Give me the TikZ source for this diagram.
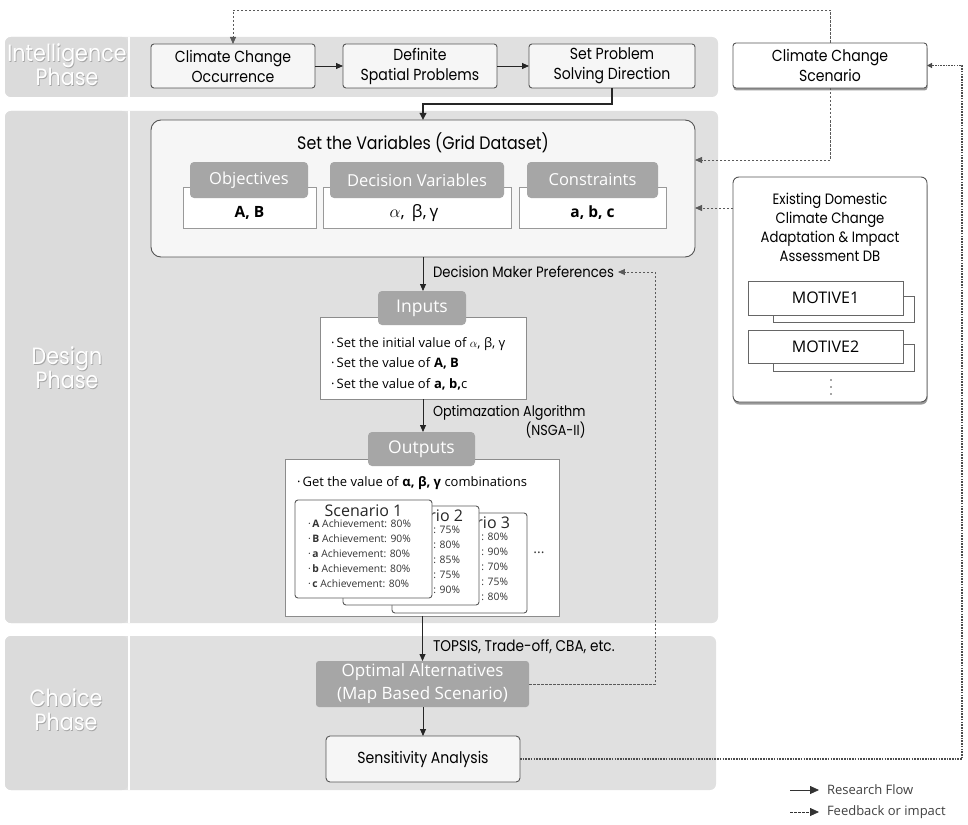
\documentclass[tikz,border=0pt]{standalone}
\usepackage{fontspec}
\setmainfont{Open Sans}
\newfontfamily\geo[FakeStretch=0.88]{Poppins}
\usetikzlibrary{arrows.meta,shadows}
\definecolor{band}{RGB}{224,224,224}
\definecolor{bandlab}{RGB}{219,219,219}
\definecolor{tabgray}{RGB}{166,166,166}
\definecolor{boxfill}{RGB}{246,246,246}
\definecolor{edge}{RGB}{85,85,85}
\definecolor{fbgray}{RGB}{90,90,90}
\begin{document}
\begin{tikzpicture}[x=1pt,y=-1pt,
  every node/.style={inner sep=0pt, outer sep=0pt},
  flowbox/.style={draw=edge, fill=boxfill, rounded corners=3pt, line width=0.9pt, align=center, font=\geo\fontsize{16}{20}\selectfont},
  tabbox/.style={fill=tabgray, rounded corners=4pt, text=white, font=\fontsize{16.5}{18}\selectfont},
  valbox/.style={fill=white, draw=black!40, line width=0.7pt},
  panel/.style={fill=white, draw=black!45, line width=0.7pt},
  card/.style={fill=white, draw=black!65, line width=0.9pt, rounded corners=3pt},
  cardtitle/.style={font=\fontsize{16}{17}\selectfont, text=black!85},
  cardtext/.style={align=left, font=\fontsize{10.3}{15}\selectfont, text=black!80},
  cardfrag/.style={align=right, font=\fontsize{10.3}{15}\selectfont, text=black!80},
  note/.style={font=\geo\fontsize{15}{19}\selectfont, anchor=west, align=right},
  phase/.style={text=white, align=center, font=\geo\fontsize{23.5}{24}\selectfont},
  phaseshadow/.style={text=black!35, align=center, font=\geo\fontsize{23.5}{24}\selectfont},
  flow/.style={draw=black!85, line width=0.8pt, -{Triangle[length=7pt,width=6pt]}},
  mainflow/.style={draw=black!85, line width=2.4pt, -{Triangle[length=7pt,width=6.5pt]}},
  fb/.style={draw=fbgray, line width=0.8pt, dash pattern=on 2.5pt off 1.5pt, -{Triangle[length=7pt,width=6pt]}},
  dotline/.style={draw=black!70, line width=1.9pt, dash pattern=on 1.6pt off 1.1pt, -{Triangle[length=5pt,width=5pt]}},
  legend/.style={font=\fontsize{13}{15}\selectfont, text=black!75, anchor=west},
  shad/.style={drop shadow={shadow xshift=0.5pt, shadow yshift=-2.5pt, fill=black!50, opacity=0.8}}
]
\useasboundingbox (0,0) rectangle (968,824);
% ---------- phase bands ----------
\fill[band, rounded corners=6pt] (5,37) rectangle (718,97);
\fill[bandlab, rounded corners=6pt] (5,37) rectangle (128,97);
\fill[band, rounded corners=6pt] (5,111) rectangle (718,623);
\fill[bandlab, rounded corners=6pt] (5,111) rectangle (128,623);
\fill[band, rounded corners=6pt] (5,636) rectangle (716,790);
\fill[bandlab, rounded corners=6pt] (5,636) rectangle (128,790);
\draw[white, line width=1.5pt] (129,37) -- (129,97) (129,111) -- (129,623) (129,636) -- (129,790);
\node[phaseshadow] (ip0) at (67.8,65.8) {Intelligence\\Phase};
\node[phase] (ip) at (67,65) {Intelligence\\Phase};
\node[phaseshadow] (dp0) at (67.8,368.3) {Design\\Phase};
\node[phase] (dp) at (67,367.5) {Design\\Phase};
\node[phaseshadow] (chp0) at (66.8,710.3) {Choice\\Phase};
\node[phase] (chp) at (66,709.5) {Choice\\Phase};
% ---------- intelligence ----------
\node[flowbox, minimum width=164, minimum height=44] (cco) at (233,66) {Climate Change\\Occurrence};
\node[flowbox, minimum width=154, minimum height=44] (dsp) at (420,66) {Definite\\Spatial Problems};
\node[flowbox, minimum width=166, minimum height=44] (spsd) at (612,66) {Set Problem\\Solving Direction};
\node[flowbox, fill=white, shad, minimum width=194, minimum height=45] (ccs) at (830,65.5) {Climate Change\\Scenario};
\draw[flow] (cco) -- (dsp);
\draw[flow] (dsp) -- (spsd);
% ---------- set variables ----------
\node[flowbox, fill=boxfill, rounded corners=10pt, minimum width=544, minimum height=137] (setvar) at (423,188.5) {};
\node[font=\geo\fontsize{18}{20}\selectfont] (svt) at (423,143) {Set the Variables (Grid Dataset)};
\node[valbox, minimum width=133, minimum height=41] (objw) at (249.5,207.5) {};
\node[valbox, minimum width=188, minimum height=41] (dvw) at (417,207.5) {};
\node[valbox, minimum width=147, minimum height=41] (conw) at (592.5,207.5) {};
\node[tabbox, minimum width=118, minimum height=36] (objt) at (249,180) {Objectives};
\node[tabbox, minimum width=174, minimum height=36] (dvt) at (417,180) {Decision Variables};
\node[tabbox, minimum width=131, minimum height=36] (cont) at (592.5,180) {Constraints};
\node[font=\bfseries\fontsize{15.5}{16}\selectfont] (objv) at (249.5,213) {A, B};
\node[font=\fontsize{17}{18}\selectfont] (dvv) at (414,213) {$\alpha$,\, β,\,γ};
\node[font=\bfseries\fontsize{15.5}{16}\selectfont] (conv) at (592.5,213) {a, b, c};
\draw[mainflow] (spsd.south) -- ++(0,16) -| (setvar.north);
% ---------- DB box ----------
\node[flowbox, fill=white, shad, rounded corners=6pt, minimum width=194, minimum height=225] (db) at (830,289.5) {};
\node[font=\geo\fontsize{15}{19}\selectfont, align=center] (dbt) at (830,227) {Existing Domestic\\Climate Change\\Adaptation \& Impact\\Assessment DB};
\node[panel, draw=black!60, minimum width=141, minimum height=26] (m1b) at (843.5,309) {};
\node[panel, draw=black!60, minimum width=155, minimum height=34, font=\fontsize{16}{17}\selectfont] (m1) at (825.5,298) {MOTIVE1};
\node[panel, draw=black!60, minimum width=141, minimum height=27] (m2b) at (843.5,357.5) {};
\node[panel, draw=black!60, minimum width=155, minimum height=33, font=\fontsize{16}{17}\selectfont] (m2) at (825.5,346.5) {MOTIVE2};
\fill[black!70] (831,380) circle (0.9) (831,387) circle (0.9) (831,394) circle (0.9);
\coordinate (sv1) at ([yshift=28.5pt]setvar.east);
\coordinate (sv2) at ([yshift=-19.5pt]setvar.east);
\draw[fb] (ccs.south) |- (sv1);
\draw[fb] (db.west |- sv2) -- (sv2);
% ---------- inputs ----------
\node[panel, minimum width=206, minimum height=82] (inw) at (423,358) {};
\node[tabbox, minimum width=88, minimum height=34, font=\fontsize{17.5}{18}\selectfont] (intab) at (422,308) {Inputs};
\node[anchor=west, align=left, font=\fontsize{13}{20.5}\selectfont] (intext) at (331,363.5)
  {·\,Set the initial value of $\alpha$, β, γ\\·\,Set the value of \textbf{A, B}\\·\,Set the value of \textbf{a, b,}c};
\node[note] (dmp) at (433,272) {Decision Maker Preferences};
\draw[flow] (setvar.south) -- (setvar.south |- intab.north);
% ---------- outputs ----------
\node[panel, minimum width=274, minimum height=157] (outw) at (422,537.5) {};
\node[tabbox, minimum width=107, minimum height=34, font=\fontsize{17.5}{18}\selectfont] (outtab) at (421.5,449) {Outputs};
\node[anchor=west, font=\fontsize{13}{15}\selectfont] (gtv) at (297,483) {·\,Get the value of \textbf{α, β, γ} combinations};
\node[note, font=\geo\fontsize{14.5}{19}\selectfont] (opta) at (433,422) {Optimazation Algorithm\\(NSGA-II)};
\draw[flow] (inw.south) -- (inw.south |- outtab.north);
% scenario cards (back to front)
\node[card, minimum width=135, minimum height=100] (c3) at (459.5,563) {};
\node[cardtitle, anchor=east] (c3t) at (510,523) {rio 3};
\node[cardfrag, anchor=north east] (c3x) at (508,533) {: 80\%\\: 90\%\\: 70\%\\: 75\%\\: 80\%};
\node[card, minimum width=136, minimum height=99] (c2) at (411,555.5) {};
\node[cardtitle, anchor=east] (c2t) at (463,516) {rio 2};
\node[cardfrag, anchor=north east] (c2x) at (460,526) {: 75\%\\: 80\%\\: 85\%\\: 75\%\\: 90\%};
\node[card, minimum width=137, minimum height=98] (c1) at (363.5,549) {};
\node[cardtitle] (c1t) at (363.5,511) {Scenario 1};
\node[cardtext, anchor=north west] (c1x) at (308,520)
  {·\,\textbf{A} Achievement: 80\%\\·\,\textbf{B} Achievement: 90\%\\·\,\textbf{a} Achievement: 80\%\\·\,\textbf{b} Achievement: 80\%\\·\,\textbf{c} Achievement: 80\%};
\node[font=\fontsize{14}{14}\selectfont, text=black!80] (more) at (539,553) {...};
% ---------- choice ----------
\node[tabbox, rounded corners=3pt, align=center, minimum width=213, minimum height=46, font=\fontsize{17}{23}\selectfont] (opt) at (422.5,684) {Optimal Alternatives\\(Map Based Scenario)};
\node[flowbox, rounded corners=4pt, minimum width=194, minimum height=46, font=\geo\fontsize{16}{20}\selectfont] (sens) at (423,759) {Sensitivity Analysis};
\node[note, font=\geo\fontsize{15.5}{19}\selectfont] (tops) at (433,647) {TOPSIS, Trade-off, CBA, etc.};
\draw[flow] (outw.south -| opt.north) -- (opt.north);
\draw[flow] (opt.south -| sens.north) -- (sens.north);
% ---------- feedback ----------
\coordinate (fbx) at (655,0);
\draw[fb] (opt.east) -| (fbx |- dmp.east) -- ([xshift=4pt]dmp.east);
\draw[fb] (ccs.north) -- ++(0,-33) -| (cco.north);
\coordinate (rc) at (962,0);
\draw[dotline] (sens.east) -| (rc |- ccs.east) -- (ccs.east);
% ---------- legend ----------
\node[legend] (lg1) at (827,790) {Research Flow};
\node[legend] (lg2) at (827,812) {Feedback or impact};
\coordinate (la1) at (790,790);
\coordinate (la2) at (790,812);
\draw[draw=black!80, line width=0.8pt, -{Triangle[length=9pt,width=8pt]}] (la1) -- ([xshift=-8pt]lg1.west);
\draw[draw=black!80, line width=0.8pt, dash pattern=on 2.5pt off 1.5pt, -{Triangle[length=9pt,width=8pt]}] (la2) -- ([xshift=-8pt]lg2.west);
\end{tikzpicture}
\end{document}
